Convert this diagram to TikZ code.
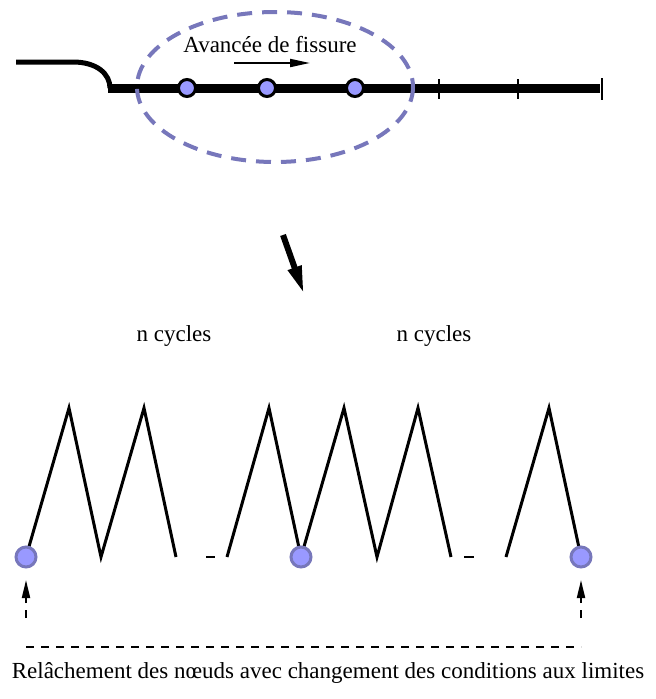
\documentclass[tikz,border=0pt]{standalone}
\usepackage{fontspec}
\setmainfont{Liberation Serif}
\usetikzlibrary{arrows.meta, positioning, backgrounds}
\definecolor{nodefill}{HTML}{9999FF}
\definecolor{zoneblue}{HTML}{7777BB}
\tikzset{
  crackpt/.style={circle, draw=black, line width=3pt, fill=nodefill, minimum size=17pt, inner sep=0pt},
  relaxpt/.style={circle, draw=zoneblue, line width=3pt, fill=nodefill, minimum size=20pt, inner sep=0pt},
  loadpath/.style={line width=3pt},
  lbl/.style={font=\fontsize{23}{27}\selectfont, inner sep=0pt},
  bcarrow/.style={line width=2pt, dash pattern=on 8pt off 7pt, -{Triangle[length=18pt,width=8pt]}}
}

\begin{document}
\begin{tikzpicture}[x=1pt, y=-1pt]
        \useasboundingbox (0,0) rectangle (656,699);
        % crack
        \draw[line width=5pt] (16,62) -- (73,62) .. controls (97,62) and (110,74) .. (110,88);
        \coordinate (tipstart) at (108,88);
        \coordinate (tipend) at (600,88);
        \draw[line width=9pt] (tipstart) -- (tipend);
        \foreach \x in {439,518} \draw[line width=1.5pt] (\x,79) -- (\x,99);
        \draw[line width=1.5pt] (602,78) -- (602,100);
        \draw[zoneblue, line width=4pt, dash pattern=on 15pt off 10pt] (275,87) ellipse [x radius=138, y radius=75];
        \node[lbl] (adv) at (270,45) {Avancée de fissure};
        \coordinate (adv0) at (234,63);
        \coordinate (adv1) at (310,63);
        \draw[line width=2pt, -{Triangle[length=20pt,width=8pt]}] (adv0) -- (adv1);
        \foreach \x/\n in {187/n1, 267/n2, 355/n3}
          \node[crackpt] (\n) at (\x,88) {};
        % zoom
        \coordinate (m0) at (283,235);
        \coordinate (m1) at (304,294);
        \draw[line width=6pt, -{Triangle[length=28pt,width=13pt]}] (m0) -- (m1);
        \node[lbl] (cyc1) at (174,336) {n cycles};
        \node[lbl] (cyc2) at (434,336) {n cycles};
        % loading
        \node[relaxpt] (b1) at (26,557) {};
        \node[relaxpt] (b2) at (301,557) {};
        \node[relaxpt] (b3) at (581,557) {};
        \begin{scope}[on background layer]
          \draw[loadpath] (b1.center) -- (69,408) -- (101,557) -- (144,408) -- (176,557);
          \draw[loadpath] (227,557) -- (269,408) -- (b2.center) -- (344,408) -- (377,557) -- (418,408) -- (451,557);
          \draw[loadpath] (506,557) -- (549,408) -- (b3.center);
        \end{scope}
        \draw[line width=2pt] (206,557) -- (215,557);
        \draw[line width=2pt] (464,557) -- (474,557);
        % relaxation
        \coordinate (r1a) at (26,618);
        \coordinate (r1b) at (26,580);
        \coordinate (r3a) at (581,618);
        \coordinate (r3b) at (581,580);
        \draw[bcarrow] (r1a) -- (r1b);
        \draw[bcarrow] (r3a) -- (r3b);
        \draw[line width=1.5pt, dash pattern=on 8pt off 7pt] (26,647) -- (581,647);
        \node[lbl] (relax) at (328,673) {Relâchement des nœuds avec changement des conditions aux limites};
      \end{tikzpicture}
\end{document}
